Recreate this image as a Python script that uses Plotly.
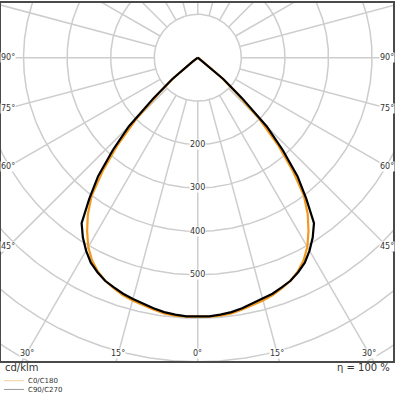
import numpy as np
import plotly.graph_objects as go

# ---------------- data (cd/klm) ----------------
gamma = [0, 2.5, 5, 7.5, 10, 12.5, 15, 17.5, 20, 22.5, 25, 27.5, 30, 32.5, 35,
         37.5, 40, 42.5, 45, 47.5, 50, 52.5, 55, 60, 65, 70, 75, 80, 85, 90]
c0_c180 = [597, 597, 596, 594, 589, 584, 579, 573, 565, 556, 543, 526, 503, 473, 440,
           400, 338, 272, 200, 122, 70, 15, 0, 0, 0, 0, 0, 0, 0, 0]
c90_c270 = [596, 596, 594, 591, 586, 580, 575, 570, 563, 556, 545, 532, 513, 491, 465,
            409, 356, 289, 224, 137, 77, 16, 0, 0, 0, 0, 0, 0, 0, 0]
ring_values = [100, 200, 300, 400, 500, 600, 700, 800, 900]
ring_labels = [200, 300, 400, 500]
spoke_angles = list(range(0, 360, 15))
side_label_angles = [45, 60, 75, 90]
bottom_label_angles = [0, 15, 30]
series_names = ["C0/C180", "C90/C270"]
unit_text = "cd/klm"
eta_text = "η\u00a0=\u00a0100\u00a0%"

# ---------------- geometry ----------------
W, H = 396, 396
S = 0.4367            # px per cd/klm
CX, CY = 198.3, 56.0  # pixel position of the pole
L, R, T, B = 1, 394, 1, 361
xr = [-(CX - L) / S, (R - CX) / S]
yr = [-(B - CY) / S, (CY - T) / S]

def px2paper_x(px):
    return (px - L) / (R - L)

def px2paper_y(py):
    return (B - py) / (B - T)

FONT = "DejaVu Sans"
GRID = "#cdcdcd"
TXT = "#333333"

fig = go.Figure()

# grid rings
t = np.radians(np.linspace(0, 360, 721))
for rv in ring_values:
    fig.add_trace(go.Scatter(x=rv * np.sin(t), y=-rv * np.cos(t), mode="lines",
                             line=dict(color=GRID, width=1.5), hoverinfo="skip",
                             showlegend=False))
# spokes
for a in spoke_angles:
    ar = np.radians(a)
    rr = np.array([ring_values[0], 2000])
    fig.add_trace(go.Scatter(x=rr * np.sin(ar), y=-rr * np.cos(ar), mode="lines",
                             line=dict(color=GRID, width=1.5), hoverinfo="skip",
                             showlegend=False))

# curves (mirrored around 0°)
def curve(vals):
    g = np.radians(np.array(gamma))
    v = np.array(vals, dtype=float)
    xl = -v[::-1] * np.sin(g[::-1])
    yl = -v[::-1] * np.cos(g[::-1])
    xr_ = v[1:] * np.sin(g[1:])
    yr_ = -v[1:] * np.cos(g[1:])
    return np.concatenate([xl, xr_]), np.concatenate([yl, yr_])

x0, y0 = curve(c0_c180)
fig.add_trace(go.Scatter(x=x0, y=y0, mode="lines", name=series_names[0],
                         line=dict(color="#f39a1e", width=2.2), showlegend=False))
x1, y1 = curve(c90_c270)
fig.add_trace(go.Scatter(x=x1, y=y1, mode="lines", name=series_names[1],
                         line=dict(color="#000000", width=2.2), showlegend=False))

ann = []
# ring labels
for v in ring_labels:
    ann.append(dict(x=0, y=-v, xref="x", yref="y", text=str(v), showarrow=False,
                    font=dict(family=FONT, size=8, color=TXT), bgcolor="white",
                    borderpad=0, xanchor="center", yanchor="middle"))
# side angle labels (centered on spoke at x = +-190px from pole)
sx = 190.0 / S
for a in side_label_angles:
    yy = 0 if a == 90 else -sx / np.tan(np.radians(a))
    for sgn in (-1, 1):
        ann.append(dict(x=sgn * sx, y=yy, xref="x", yref="y", text=f"{a}°",
                        showarrow=False, font=dict(family=FONT, size=8, color=TXT),
                        bgcolor="white", borderpad=0, xanchor="center", yanchor="middle"))
# bottom angle labels
by = -(353.0 - CY) / S
for a in bottom_label_angles:
    for sgn in ((1,) if a == 0 else (-1, 1)):
        ann.append(dict(x=sgn * (-by) * np.tan(np.radians(a)), y=by, xref="x", yref="y",
                        text=f"{a}°", showarrow=False,
                        font=dict(family=FONT, size=8, color=TXT),
                        bgcolor="white", borderpad=0, xanchor="center", yanchor="middle"))
# unit and efficiency text
ann.append(dict(x=px2paper_x(3), y=px2paper_y(368), xref="paper", yref="paper",
                text=unit_text, showarrow=False, xanchor="left", yanchor="middle",
                font=dict(family=FONT, size=10, color=TXT)))
ann.append(dict(x=px2paper_x(393), y=px2paper_y(368), xref="paper", yref="paper",
                text=eta_text, showarrow=False, xanchor="right", yanchor="middle",
                font=dict(family=FONT, size=10, color=TXT)))
# legend: one text block, two key lines
leg_y = [380.8, 389.6]
leg_col = ["#f9cf9c", "#9a9a9a"]
ann.append(dict(x=px2paper_x(27), y=px2paper_y(sum(leg_y) / 2), xref="paper",
                yref="paper", text="<br>".join(series_names), showarrow=False,
                xanchor="left", yanchor="middle", align="left", borderpad=0,
                font=dict(family=FONT, size=7, color=TXT)))
shapes = []
for ly, lc in zip(leg_y, leg_col):
    shapes.append(dict(type="line", xref="paper", yref="paper",
                       x0=px2paper_x(4), x1=px2paper_x(24),
                       y0=px2paper_y(ly), y1=px2paper_y(ly),
                       line=dict(color=lc, width=1)))

fig.update_layout(
    width=W, height=H,
    margin=dict(l=L, r=W - R, t=T, b=H - B, pad=0),
    paper_bgcolor="white", plot_bgcolor="white",
    xaxis=dict(range=xr, showgrid=False, zeroline=False, showticklabels=False,
               ticks="", showline=True, mirror=True, linecolor="#4a4a4a", linewidth=2,
               fixedrange=True),
    yaxis=dict(range=yr, showgrid=False, zeroline=False, showticklabels=False,
               ticks="", showline=True, mirror=True, linecolor="#4a4a4a", linewidth=2,
               fixedrange=True),
    annotations=ann, shapes=shapes, showlegend=False,
)

fig.write_html("out.html")
